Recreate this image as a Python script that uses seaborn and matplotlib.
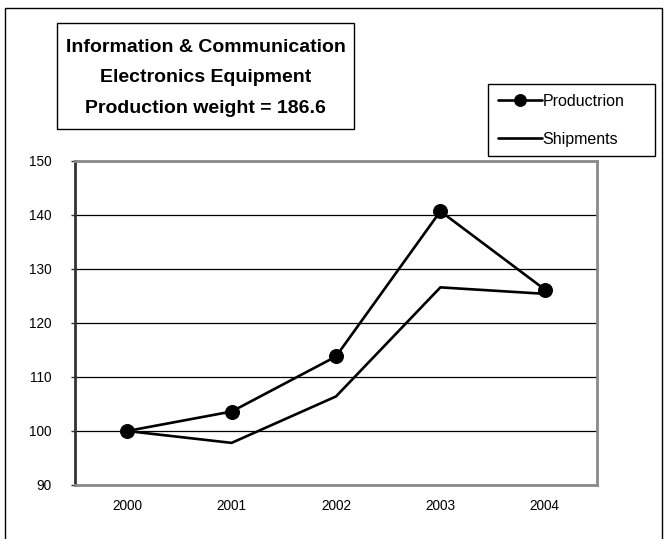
import numpy as np
import pandas as pd
import matplotlib
matplotlib.use("Agg")
import matplotlib.pyplot as plt
import matplotlib.patches as mpatches
import seaborn as sns

# values
years = [2000, 2001, 2002, 2003, 2004]
production = [100.0, 103.6, 113.8, 140.7, 126.2]
shipments = [100.0, 97.8, 106.4, 126.6, 125.4]
y_ticks = [90, 100, 110, 120, 130, 140, 150]
title_lines = ["Information & Communication",
               "Electronics Equipment",
               "Production weight = 186.6"]

sns.set_style("white")
plt.rcParams['font.family'] = ['Liberation Sans', 'DejaVu Sans']
plt.rcParams['text.color'] = 'black'
plt.rcParams['xtick.color'] = 'black'
plt.rcParams['ytick.color'] = 'black'

fig = plt.figure(figsize=(6.64, 5.39), dpi=100)
ax = fig.add_axes([75/664, 1 - 485/539, 522/664, 324/539])

df = pd.DataFrame({"year": years, "Productrion": production, "Shipments": shipments})

sns.lineplot(data=df, x="year", y="Productrion", ax=ax, color="black", lw=1.9,
             marker="o", markersize=10, markeredgecolor="black", label="Productrion")
sns.lineplot(data=df, x="year", y="Shipments", ax=ax, color="black", lw=1.9,
             label="Shipments")

ax.set_xlim(1999.5, 2004.5)
ax.set_ylim(90, 150)
ax.set_xticks(years)
ax.set_xticklabels([str(y) for y in years])
ax.set_yticks(y_ticks)
ax.set_xlabel("")
ax.set_ylabel("")
ax.tick_params(axis="x", length=0, pad=10, labelsize=9.8)
ax.tick_params(axis="y", length=3, width=1, color="#333333", direction="out",
               left=True, pad=14, labelsize=9.8)
ax.yaxis.grid(True, color="black", lw=0.9)
ax.set_axisbelow(True)
for side, sp in ax.spines.items():
    sp.set_visible(True)
    sp.set_color("#8a8a8a")
    sp.set_linewidth(2)
ax.spines["left"].set_color("#333333")

leg = ax.legend(loc="upper left",
                bbox_to_anchor=(488/664, 1 - 156/539, 167/664, 72/539),
                bbox_transform=fig.transFigure, mode="expand", borderaxespad=0,
                fancybox=False, edgecolor="black", framealpha=1, fontsize=11.5,
                handlelength=2.75, handletextpad=0.05, borderpad=0.6,
                labelspacing=1.45, markerscale=0.85)
leg.get_frame().set_linewidth(1)
leg.set_zorder(5)

# title box
fig.patches.append(mpatches.Rectangle((57/664, 1 - 129/539), 297/664, 106/539,
                                      transform=fig.transFigure, fill=False,
                                      edgecolor="black", lw=1))
fig.text(205.5/664, 1 - 78/539, "\n".join(title_lines), ha="center", va="center",
         fontsize=14, fontweight="bold", linespacing=2.05, color="black")

# outer border, bottom edge outside the canvas
fig.patches.append(mpatches.Rectangle((5/664, -0.05), 657/664, 1.05 - 8/539,
                                      transform=fig.transFigure, fill=False,
                                      edgecolor="black", lw=1))

fig.savefig("out.png", dpi=100)
